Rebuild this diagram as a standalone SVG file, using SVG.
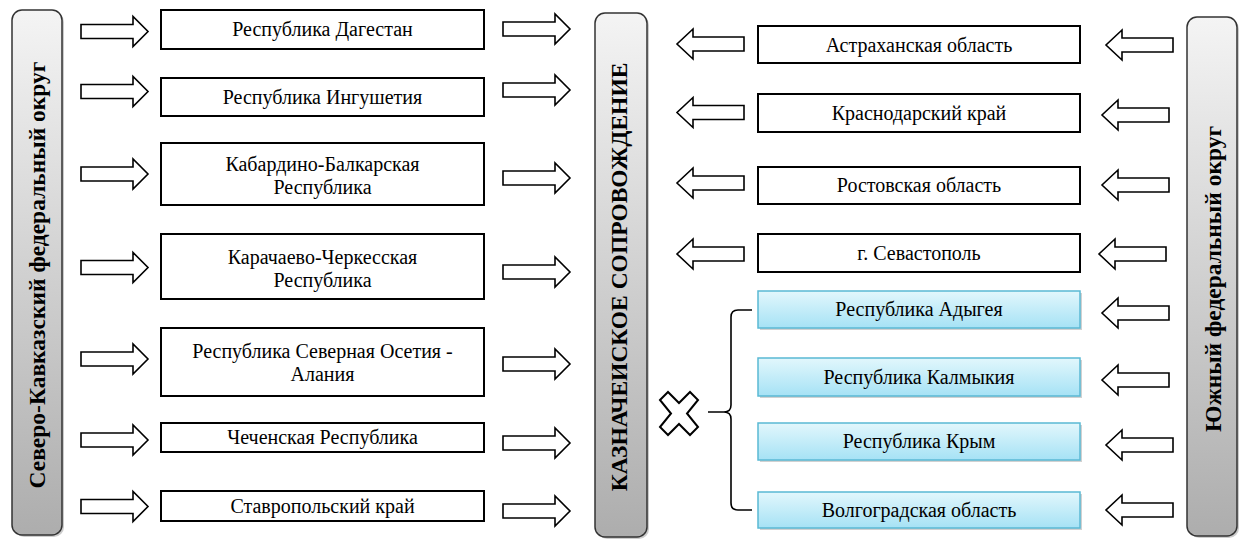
<svg xmlns="http://www.w3.org/2000/svg" width="1239" height="539" viewBox="0 0 1239 539" font-family="Liberation Serif, Times New Roman, serif">
<defs>
<linearGradient id="gGray" x1="0" y1="0" x2="0" y2="1">
<stop offset="0" stop-color="#f4f4f4"/>
<stop offset="1" stop-color="#adadad"/>
</linearGradient>
<linearGradient id="gBlue" x1="0" y1="0" x2="0" y2="1">
<stop offset="0" stop-color="#e2f7fc"/>
<stop offset="1" stop-color="#a6e2f5"/>
</linearGradient>
<path id="arR" d="M0,-7 H52 V-15 L67,0 L52,15 V7 H0 Z"/>
<path id="arL" d="M0,-7 H-51 V-15 L-67,0 L-51,15 V7 H0 Z"/>
</defs>

<g id="side-left">
<rect x="14" y="12" width="50" height="525" rx="10" fill="#000" opacity="0.2"/>
<rect x="12" y="10" width="50" height="525" rx="10" fill="url(#gGray)" stroke="#333" stroke-width="1.5"/>
<text font-family="Liberation Serif" font-size="23.5" font-weight="bold" text-anchor="middle" transform="translate(45,275) rotate(-90)">Северо-Кавказский федеральный округ</text>
</g>
<g id="side-center">
<rect x="597" y="15" width="52" height="524" rx="10" fill="#000" opacity="0.2"/>
<rect x="595" y="13" width="52" height="524" rx="10" fill="url(#gGray)" stroke="#333" stroke-width="1.5"/>
<text font-family="Liberation Serif" font-size="23.5" font-weight="bold" text-anchor="middle" transform="translate(627,277) rotate(-90)">КАЗНАЧЕИСКОЕ СОПРОВОЖДЕНИЕ</text>
</g>
<g id="side-right">
<rect x="1189" y="19" width="50" height="519" rx="10" fill="#000" opacity="0.2"/>
<rect x="1187" y="17" width="50" height="519" rx="10" fill="url(#gGray)" stroke="#333" stroke-width="1.5"/>
<text font-family="Liberation Serif" font-size="23.5" font-weight="bold" text-anchor="middle" transform="translate(1221,279) rotate(-90)">Южный федеральный округ</text>
</g>

<g fill="#fff" stroke="#000" stroke-width="2">
<g id="n-dagestan"><rect x="161" y="10" width="323" height="39"/><text font-family="Liberation Serif" font-size="20" fill="#000" stroke="none" text-anchor="middle" x="322.5" y="36">Республика Дагестан</text></g>
<g id="n-ingush"><rect x="161" y="78" width="323" height="38"/><text font-family="Liberation Serif" font-size="20" fill="#000" stroke="none" text-anchor="middle" x="322.5" y="103.5">Республика Ингушетия</text></g>
<g id="n-kbr"><rect x="161" y="143" width="323" height="62"/><text font-family="Liberation Serif" font-size="20" fill="#000" stroke="none" text-anchor="middle" x="322.5" y="171">Кабардино-Балкарская</text><text font-family="Liberation Serif" font-size="20" fill="#000" stroke="none" text-anchor="middle" x="322.5" y="194">Республика</text></g>
<g id="n-kchr"><rect x="161" y="234" width="323" height="65"/><text font-family="Liberation Serif" font-size="20" fill="#000" stroke="none" text-anchor="middle" x="322.5" y="264">Карачаево-Черкесская</text><text font-family="Liberation Serif" font-size="20" fill="#000" stroke="none" text-anchor="middle" x="322.5" y="287">Республика</text></g>
<g id="n-osetia"><rect x="161" y="328" width="323" height="68"/><text font-family="Liberation Serif" font-size="20" fill="#000" stroke="none" text-anchor="middle" x="322.5" y="358">Республика Северная Осетия -</text><text font-family="Liberation Serif" font-size="20" fill="#000" stroke="none" text-anchor="middle" x="322.5" y="381">Алания</text></g>
<g id="n-chechnya"><rect x="161" y="423" width="323" height="29"/><text font-family="Liberation Serif" font-size="20" fill="#000" stroke="none" text-anchor="middle" x="322.5" y="444">Чеченская Республика</text></g>
<g id="n-stavropol"><rect x="161" y="491" width="323" height="30"/><text font-family="Liberation Serif" font-size="20" fill="#000" stroke="none" text-anchor="middle" x="322.5" y="512.5">Ставропольский край</text></g>
<g id="n-astrakhan"><rect x="758" y="26" width="322" height="37"/><text font-family="Liberation Serif" font-size="20" fill="#000" stroke="none" text-anchor="middle" x="919" y="51.5">Астраханская область</text></g>
<g id="n-krasnodar"><rect x="758" y="94" width="322" height="38"/><text font-family="Liberation Serif" font-size="20" fill="#000" stroke="none" text-anchor="middle" x="919" y="119.5">Краснодарский край</text></g>
<g id="n-rostov"><rect x="758" y="167" width="322" height="37"/><text font-family="Liberation Serif" font-size="20" fill="#000" stroke="none" text-anchor="middle" x="919" y="192">Ростовская область</text></g>
<g id="n-sevastopol"><rect x="758" y="234" width="322" height="38"/><text font-family="Liberation Serif" font-size="20" fill="#000" stroke="none" text-anchor="middle" x="919" y="259.5">г. Севастополь</text></g>
</g>

<g fill="url(#gBlue)" stroke="#5ab9d4" stroke-width="1.5">
<g id="n-adygea"><rect x="760" y="293" width="322" height="37" fill="#000" opacity="0.18" stroke="none"/><rect x="758" y="291" width="322" height="37"/><text font-family="Liberation Serif" font-size="20" fill="#000" stroke="none" text-anchor="middle" x="919" y="316">Республика Адыгея</text></g>
<g id="n-kalmykia"><rect x="760" y="360" width="322" height="38" fill="#000" opacity="0.18" stroke="none"/><rect x="758" y="358" width="322" height="38"/><text font-family="Liberation Serif" font-size="20" fill="#000" stroke="none" text-anchor="middle" x="919" y="383.5">Республика Калмыкия</text></g>
<g id="n-crimea"><rect x="760" y="425" width="322" height="37" fill="#000" opacity="0.18" stroke="none"/><rect x="758" y="423" width="322" height="37"/><text font-family="Liberation Serif" font-size="20" fill="#000" stroke="none" text-anchor="middle" x="919" y="448">Республика Крым</text></g>
<g id="n-volgograd"><rect x="760" y="494" width="322" height="36" fill="#000" opacity="0.18" stroke="none"/><rect x="758" y="492" width="322" height="36"/><text font-family="Liberation Serif" font-size="20" fill="#000" stroke="none" text-anchor="middle" x="919" y="516.5">Волгоградская область</text></g>
</g>

<g id="connectors" fill="#fff" stroke="#000" stroke-width="1.6">
<use href="#arR" x="81" y="31.5"/>
<use href="#arR" x="81" y="91.5"/>
<use href="#arR" x="81" y="174"/>
<use href="#arR" x="81" y="267.5"/>
<use href="#arR" x="81" y="359"/>
<use href="#arR" x="81" y="440"/>
<use href="#arR" x="81" y="506.5"/>
<use href="#arR" x="503" y="29"/>
<use href="#arR" x="503" y="90"/>
<use href="#arR" x="503" y="178"/>
<use href="#arR" x="503" y="272"/>
<use href="#arR" x="503" y="364"/>
<use href="#arR" x="503" y="443"/>
<use href="#arR" x="503" y="511"/>
<use href="#arL" x="744" y="44"/>
<use href="#arL" x="744" y="112.5"/>
<use href="#arL" x="744" y="183"/>
<use href="#arL" x="744" y="254"/>
<use href="#arL" x="1173" y="45"/>
<use href="#arL" x="1169" y="115"/>
<use href="#arL" x="1169" y="185"/>
<use href="#arL" x="1166" y="254"/>
<use href="#arL" x="1169" y="313"/>
<use href="#arL" x="1169" y="380"/>
<use href="#arL" x="1173" y="445"/>
<use href="#arL" x="1173" y="510"/>
<path fill="none" d="M752,310 H738 Q731,310 731,317 V405 Q731,412 724,412 H708 M724,412 Q731,412 731,419 V503 Q731,510 738,510 H752"/>
<path stroke-width="2" d="M660,400 L668,392 L679,403 L690,392 L698,400 L687,413.5 L698,427 L690,435 L679,424 L668,435 L660,427 L671,413.5 Z"/>
</g>
</svg>
